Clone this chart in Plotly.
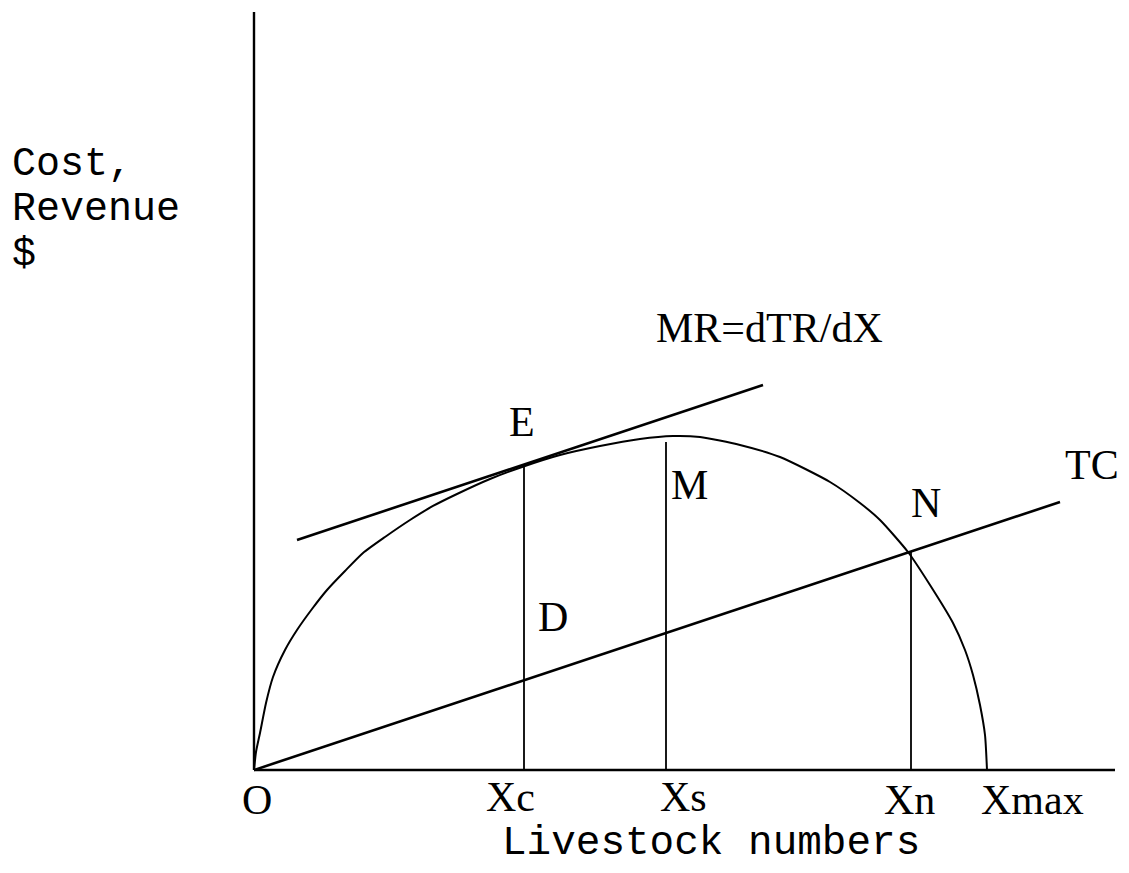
"""
Total revenue / total cost diagram for livestock numbers.
"""
import plotly.graph_objects as go

# Total revenue curve (arbitrary units)
tr_x = [0, 2, 6, 12, 19, 31, 43, 58, 73, 91, 109, 131, 156, 179, 203,
        236, 271, 306, 346, 386, 419, 446, 486, 526, 576, 606, 626, 654,
        676, 699, 711, 719, 726, 731, 733]
tr_y = [0, 18, 37, 67, 93, 120, 140, 161, 180, 199, 217, 233, 250, 264, 276,
        291, 304, 315, 324, 331, 334, 333, 325, 313, 288, 267, 250, 218,
        185, 147, 120, 95, 65, 35, 0]

# Total cost line
tc_x = [0, 806]
tc_y = [0, 268]

# Tangent (marginal revenue) line touching TR at E
mr_x = [43, 509]
mr_y = [230, 385]

# Key livestock numbers on the x axis
x_c, x_s, x_n = 270, 412, 657
tr_at_c, tr_at_s, tc_at_n = 305, 328, 218

axis_x_end = 861
axis_y_end = 758

point_labels = ["E", "M", "D", "N", "TC", "MR=dTR/dX"]
point_label_x = [268, 435, 299, 672, 838, 515]
point_label_y = [348, 285, 153, 267, 305, 442]

tick_labels = ["O", "Xc", "Xs", "Xn", "Xmax"]
tick_label_x = [3, 256, 429, 655, 778]
tick_label_y = [-30, -27, -27, -30, -30]

y_title_lines = ["Cost,", "Revenue", "$"]
y_title_y = [606, 561, 516]

SERIF = "Liberation Serif"
MONO = "Liberation Mono"

fig = go.Figure()

# axes drawn as plain lines
fig.add_trace(go.Scatter(x=[0, 0], y=[0, axis_y_end], mode="lines",
                         line=dict(color="black", width=2.4), hoverinfo="skip"))
fig.add_trace(go.Scatter(x=[0, axis_x_end], y=[0, 0], mode="lines",
                         line=dict(color="black", width=2.4), hoverinfo="skip"))

fig.add_trace(go.Scatter(x=tr_x, y=tr_y, mode="lines", name="TR",
                         line=dict(color="black", width=2, shape="spline",
                                   smoothing=0.6)))
fig.add_trace(go.Scatter(x=tc_x, y=tc_y, mode="lines", name="TC",
                         line=dict(color="black", width=2.6)))
fig.add_trace(go.Scatter(x=mr_x, y=mr_y, mode="lines", name="MR",
                         line=dict(color="black", width=2.6)))

# verticals at Xc, Xs, Xn
for xv, top in [(x_c, tr_at_c), (x_s, tr_at_s), (x_n, tc_at_n)]:
    fig.add_trace(go.Scatter(x=[xv, xv], y=[0, top], mode="lines",
                             line=dict(color="black", width=1.8),
                             hoverinfo="skip"))

annotations = []
for txt, ax, ay in zip(point_labels, point_label_x, point_label_y):
    annotations.append(dict(x=ax, y=ay, text=txt, showarrow=False,
                            xanchor="center", yanchor="middle",
                            font=dict(family=SERIF, size=42, color="black")))

for txt, ax, ay in zip(tick_labels, tick_label_x, tick_label_y):
    annotations.append(dict(x=ax, y=ay, text=txt, showarrow=False,
                            xanchor="center", yanchor="middle",
                            font=dict(family=SERIF, size=42, color="black")))

annotations.append(dict(x=457, y=-73, text="Livestock numbers", showarrow=False,
                        xanchor="center", yanchor="middle",
                        font=dict(family=MONO, size=41, color="black")))

# y title: three stacked lines
for txt, ay in zip(y_title_lines, y_title_y):
    annotations.append(dict(x=-244, y=ay, text=txt, showarrow=False,
                            xanchor="left", yanchor="middle",
                            font=dict(family=MONO, size=40, color="black")))

# page body adds an 8px margin, so the figure is kept 16px smaller
fig.update_layout(
    width=1113,
    height=857,
    margin=dict(l=0, r=0, t=0, b=0),
    paper_bgcolor="white",
    plot_bgcolor="white",
    showlegend=False,
    annotations=annotations,
    xaxis=dict(range=[-246, 867], visible=False, fixedrange=True),
    yaxis=dict(range=[-95, 762], visible=False, fixedrange=True),
)

fig.write_html("out.html")
